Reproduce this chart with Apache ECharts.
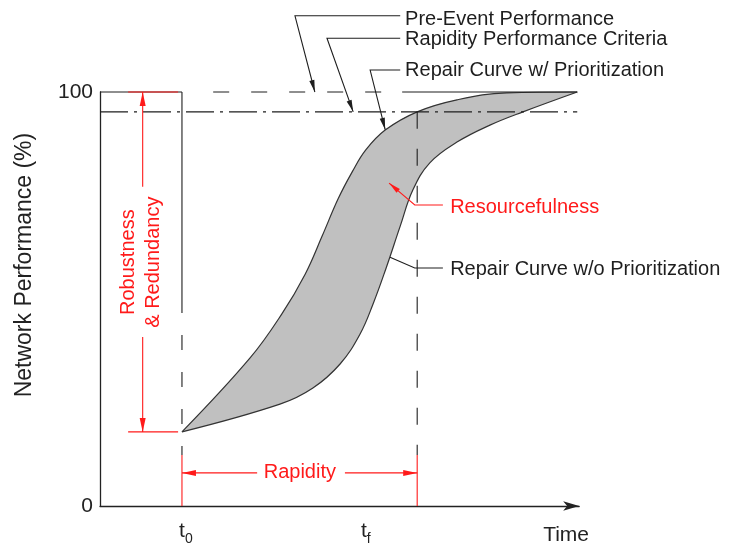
<!DOCTYPE html>
<html><head><meta charset="utf-8">
<script src="https://cdn.jsdelivr.net/npm/echarts@6/dist/echarts.min.js"></script>
<style>html,body{margin:0;padding:0;background:#fff}#c{width:733px;height:546px}</style>
</head><body><div id="c"></div>
<script>
// ---- data (time in arbitrary units 0..~99, performance in %) ----
const upperX = [16.9, 30.9, 37.5, 42.3, 45.8, 49.1, 52.0, 54.8, 58.8, 65.4, 73.6, 83.9, 98.4];
const upperY = [17.9, 35.7, 46.4, 56.0, 65.2, 74.2, 80.7, 86.0, 90.8, 95.2, 98.1, 99.8, 100];
const lowerX = [16.9, 37.1, 43.9, 49.5, 53.6, 56.3, 59.0, 61.9, 64.5, 68.0, 73.6, 80.4, 87.2, 98.4];
const lowerY = [17.9, 24.6, 28.5, 34.3, 41.5, 48.8, 57.5, 67.6, 76.3, 82.9, 87.9, 92.0, 95.2, 100];
const preEvent = 100, criteria = 95.2, residual = 17.9;
const t0 = 16.9, tf = 65.4, tEnd = 98.4, xMax = 98.8;
const yTicks = [0, 100];
const timeLabels = [{t: 't', sub: '0', x: 16.9}, {t: 't', sub: 'f', x: 54.4}];
const notes = [
  {text: 'Pre-Event Performance', x: 62.9, y: 117.6, leader: [[61.9,118.4],[40.2,118.4],[44.3,100]], red: false, arrow: true},
  {text: 'Rapidity Performance Criteria', x: 62.9, y: 112.8, leader: [[61.9,113.0],[46.8,113.0],[52.2,95.2]], red: false, arrow: true},
  {text: 'Repair Curve w/ Prioritization', x: 62.9, y: 105.1, leader: [[61.9,105.3],[55.7,105.3],[58.8,90.9]], red: false, arrow: true},
  {text: 'Resourcefulness', x: 72.2, y: 72.2, leader: [[70.7,72.7],[64.9,72.7],[59.6,78.0]], red: true, arrow: true},
  {text: 'Repair Curve w/o Prioritization', x: 72.2, y: 57.2, leader: [[70.7,57.5],[64.9,57.5],[59.8,60.1]], red: false, arrow: false}
];

const FONT = '"Liberation Sans", Arial, sans-serif';
const RED = '#ff1a1a';
const INK = '#1e1e1e';

const chart = echarts.init(document.getElementById('c'), null, {renderer: 'canvas'});

function seg(data, color, type, offset, z, width) {
  return {type: 'line', data: data, symbol: 'none', showSymbol: false, silent: true, clip: false,
    z: z || 5, animation: false,
    lineStyle: {color: color, width: width || 1.1, type: type || 'solid', dashOffset: offset || 0}};
}

const series = [
  {type: 'line', data: upperX.map((x, i) => [x, upperY[i]]), smooth: 0.4, symbol: 'none', showSymbol: false,
   clip: false, silent: true, z: 2, animation: false,
   lineStyle: {color: '#333', width: 1.2}, areaStyle: {color: '#c0c0c0', opacity: 1, origin: residual}},
  {type: 'line', data: lowerX.map((x, i) => [x, lowerY[i]]), smooth: 0.4, symbol: 'none', showSymbol: false,
   clip: false, silent: true, z: 3, animation: false,
   lineStyle: {color: '#333', width: 1.2}, areaStyle: {color: '#ffffff', opacity: 1, origin: residual}},
  // hide the seam where the two fills end
  seg([[tEnd, residual], [tEnd, 99.4]], '#ffffff', null, 0, 4, 2.5),
  // pre-event performance line
  seg([[0, preEvent], [t0, preEvent]], INK),
  seg([[18.8, preEvent], [62.3, preEvent]], INK, [16, 22], 16),
  seg([[62.3, preEvent], [tEnd, preEvent]], INK),
  // rapidity performance criteria
  seg([[0, criteria], [tEnd, criteria]], INK, [28, 6, 3, 6]),
  // t0 line
  seg([[t0, preEvent], [t0, 46.6]], INK),
  seg([[t0, 46.6], [t0, 12.3]], INK, [15, 22], 15),
  seg([[t0, 12.3], [t0, 0]], RED, null, 0, 6),
  // tf line
  seg([[tf, criteria], [tf, 12.3]], INK, [17, 20]),
  seg([[tf, 12.3], [tf, 0]], RED, null, 0, 6),
  // robustness dimension
  seg([[5.8, preEvent], [16.1, preEvent]], RED, null, 0, 6),
  seg([[5.8, residual], [16.1, residual]], RED, null, 0, 6),
  seg([[8.8, preEvent], [8.8, 77.1]], RED, null, 0, 6),
  seg([[8.8, 40.8], [8.8, residual]], RED, null, 0, 6),
  // rapidity dimension
  seg([[t0, 8.0], [32.4, 8.0]], RED, null, 0, 6),
  seg([[50.5, 8.0], [tf, 8.0]], RED, null, 0, 6)
];

chart.setOption({
  animation: false,
  backgroundColor: '#fff',
  grid: {left: 100, right: 733 - 100 - xMax * 4.85, top: 92, bottom: 40},
  xAxis: {type: 'value', min: 0, max: xMax,
    axisLine: {show: true, symbol: ['none', 'arrow'], symbolSize: [7, 16], lineStyle: {color: '#222', width: 1.3}},
    axisTick: {show: false}, axisLabel: {show: false}, splitLine: {show: false}},
  yAxis: {type: 'value', min: yTicks[0], max: yTicks[1], interval: yTicks[1] - yTicks[0],
    axisLine: {show: true, lineStyle: {color: '#222', width: 1.3}},
    axisTick: {show: false}, splitLine: {show: false},
    axisLabel: {fontSize: 21, color: '#222', fontFamily: FONT, margin: 7}},
  series: series
});

function px(p) { return chart.convertToPixel({gridIndex: 0}, p); }
function arrowHead(tip, from, L, w, color) {
  const dx = tip[0] - from[0], dy = tip[1] - from[1];
  const len = Math.sqrt(dx * dx + dy * dy);
  const ux = dx / len, uy = dy / len;
  const bx = tip[0] - ux * L, by = tip[1] - uy * L;
  return {type: 'polygon', silent: true, z: 20,
    shape: {points: [tip, [bx - uy * w, by + ux * w], [bx + uy * w, by - ux * w]]},
    style: {fill: color}};
}
function txt(text, p, opts) {
  return Object.assign({type: 'text', silent: true, z: 20, x: p[0], y: p[1],
    style: Object.assign({text: text, fontFamily: FONT, fontSize: 20, fill: INK,
      textAlign: 'left', textVerticalAlign: 'middle'}, opts.style || {})},
    opts.rotation ? {rotation: opts.rotation} : {});
}

const g = [];
notes.forEach(n => {
  const color = n.red ? RED : INK;
  const pts = n.leader.map(px);
  g.push({type: 'polyline', silent: true, z: 20, shape: {points: pts},
    style: {stroke: color, lineWidth: 1.1, fill: null}});
  if (n.arrow) g.push(arrowHead(pts[pts.length - 1], pts[pts.length - 2], 12, 2.6, color));
  g.push(txt(n.text, px([n.x, n.y]), {style: {fill: color}}));
});
// dimension arrowheads
const rTop = px([8.8, preEvent]), rBot = px([8.8, residual]);
g.push(arrowHead(rTop, [rTop[0], rTop[1] + 20], 14, 3, RED));
g.push(arrowHead(rBot, [rBot[0], rBot[1] - 20], 14, 3, RED));
const aL = px([t0, 8.0]), aR = px([tf, 8.0]);
g.push(arrowHead(aL, [aL[0] + 20, aL[1]], 14, 3, RED));
g.push(arrowHead(aR, [aR[0] - 20, aR[1]], 14, 3, RED));
// dimension texts
g.push(txt('Rapidity', px([41.2, 8.0]), {style: {fill: RED, textAlign: 'center'}}));
g.push(txt('Robustness\n& Redundancy', px([8.35, 58.9]),
  {rotation: Math.PI / 2, style: {fill: RED, textAlign: 'center', lineHeight: 25}}));
// axis titles
g.push(txt('Network Performance (%)', px([-15.5, 58.2]),
  {rotation: Math.PI / 2, style: {fontSize: 23, textAlign: 'center', fill: '#222'}}));
g.push(txt('Time', px([96.1, -7.0]), {style: {fontSize: 21, textAlign: 'center', fill: '#222'}}));
// time tick labels with subscripts
timeLabels.forEach(l => {
  const p = px([l.x, -6.0]);
  g.push(txt(l.t, p, {style: {fontSize: 21, textAlign: 'center', fill: '#222'}}));
  g.push(txt(l.sub, [p[0] + 3, p[1] + 8], {style: {fontSize: 14, textAlign: 'left', fill: '#222'}}));
});
chart.setOption({graphic: {elements: g}});
</script>
</body></html>
